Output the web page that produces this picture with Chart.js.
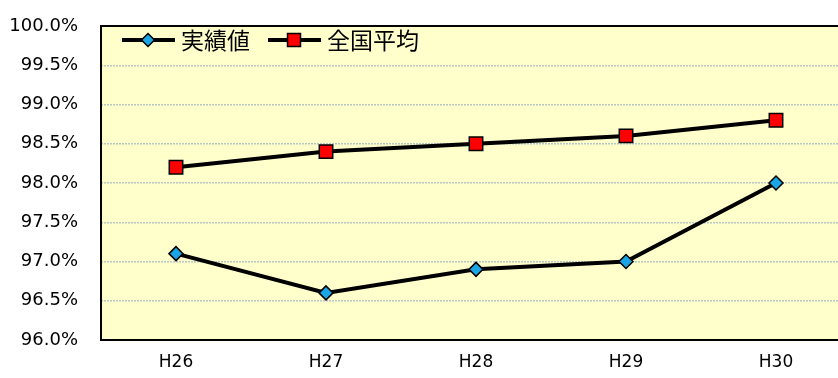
<!DOCTYPE html>
<html>
<head>
<meta charset="utf-8">
<script src="https://cdn.jsdelivr.net/npm/chart.js@4"></script>
<style>
  html, body { margin: 0; padding: 0; background: #fff; overflow: hidden; }
</style>
</head>
<body>
<canvas id="rateChart" width="853" height="378"></canvas>
<script>
const years = ["H26", "H27", "H28", "H29", "H30"];
const actual = [97.1, 96.6, 96.9, 97.0, 98.0];
const national = [98.2, 98.4, 98.5, 98.6, 98.8];
const seriesNames = ["実績値", "全国平均"];

const JP_FONT = "'Noto Sans CJK JP', 'Noto Sans', sans-serif";
const NUM_FONT = "'DejaVu Sans', sans-serif";

// plot background + frame
const frame = {
  id: "frame",
  beforeDraw(chart) {
    const { ctx, chartArea: a } = chart;
    ctx.save();
    ctx.fillStyle = "#ffffcc";
    ctx.fillRect(a.left, a.top, a.right - a.left, a.bottom - a.top);
    ctx.restore();
  },
  afterDatasetsDraw(chart) {
    const { ctx, chartArea: a } = chart;
    ctx.save();
    ctx.strokeStyle = "#000";
    ctx.lineWidth = 2;
    ctx.strokeRect(a.left, a.top, a.right - a.left, a.bottom - a.top);
    ctx.restore();
  },
};

// legend drawn inside the plot, line + marker + label
const insideLegend = {
  id: "insideLegend",
  afterDraw(chart) {
    const { ctx, chartArea: a } = chart;
    const y = a.top + 14;
    let x = a.left + 21;
    ctx.save();
    ctx.font = "23px " + JP_FONT;
    ctx.textBaseline = "middle";
    chart.data.datasets.forEach((ds, i) => {
      ctx.strokeStyle = "#000";
      ctx.lineWidth = 4;
      ctx.beginPath();
      ctx.moveTo(x, y);
      ctx.lineTo(x + 53, y);
      ctx.stroke();
      const cx = x + 26;
      ctx.fillStyle = ds.pointBackgroundColor;
      ctx.lineWidth = 1.5;
      ctx.beginPath();
      if (i === 0) {
        ctx.moveTo(cx, y - 6.5);
        ctx.lineTo(cx + 6.5, y);
        ctx.lineTo(cx, y + 6.5);
        ctx.lineTo(cx - 6.5, y);
        ctx.closePath();
      } else {
        ctx.rect(cx - 6.5, y - 6.5, 13, 13);
      }
      ctx.fill();
      ctx.stroke();
      ctx.fillStyle = "#000";
      ctx.fillText(ds.label, x + 59, y);
      x += 59 + ctx.measureText(ds.label).width + 18;
    });
    ctx.restore();
  },
};

new Chart(document.getElementById("rateChart"), {
  type: "line",
  data: {
    labels: years,
    datasets: [
      {
        label: seriesNames[0],
        data: actual,
        borderColor: "#000",
        borderWidth: 4,
        pointStyle: "rectRot",
        pointRadius: 7,
        pointHoverRadius: 7,
        pointBackgroundColor: "#1aa6e6",
        pointBorderColor: "#000",
        pointBorderWidth: 1.5,
        tension: 0,
      },
      {
        label: seriesNames[1],
        data: national,
        borderColor: "#000",
        borderWidth: 4,
        pointStyle: "rect",
        pointRadius: 9.5,
        pointHoverRadius: 9.5,
        pointBackgroundColor: "#ff0000",
        pointBorderColor: "#000",
        pointBorderWidth: 1.5,
        tension: 0,
      },
    ],
  },
  options: {
    responsive: false,
    animation: false,
    layout: { autoPadding: false, padding: { top: 26, right: 2, left: 0, bottom: 0 } },
    scales: {
      x: {
        offset: true,
        grid: { display: false },
        border: { display: false },
        ticks: { color: "#000", font: { family: NUM_FONT, size: 17 }, padding: 4 },
        afterFit(scale) {
          scale.height = 38;
          scale.paddingLeft = 0;
          scale.paddingRight = 0;
        },
      },
      y: {
        min: 96,
        max: 100,
        grid: {
          color: (c) => (c.tick.value === 96 || c.tick.value === 100 ? "transparent" : "#b8c6c4"),
          lineWidth: 1.5,
          drawTicks: false,
        },
        border: { display: false, dash: [2, 1] },
        ticks: {
          stepSize: 0.5,
          color: "#000",
          padding: 23,
          font: { family: NUM_FONT, size: 18 },
          callback: (v) => v.toFixed(1) + "%",
        },
        afterFit(scale) {
          scale.width = 101;
          scale.paddingTop = 0;
          scale.paddingBottom = 0;
        },
      },
    },
    plugins: {
      legend: { display: false },
      tooltip: { enabled: false },
    },
  },
  plugins: [frame, insideLegend],
});
</script>
</body>
</html>
